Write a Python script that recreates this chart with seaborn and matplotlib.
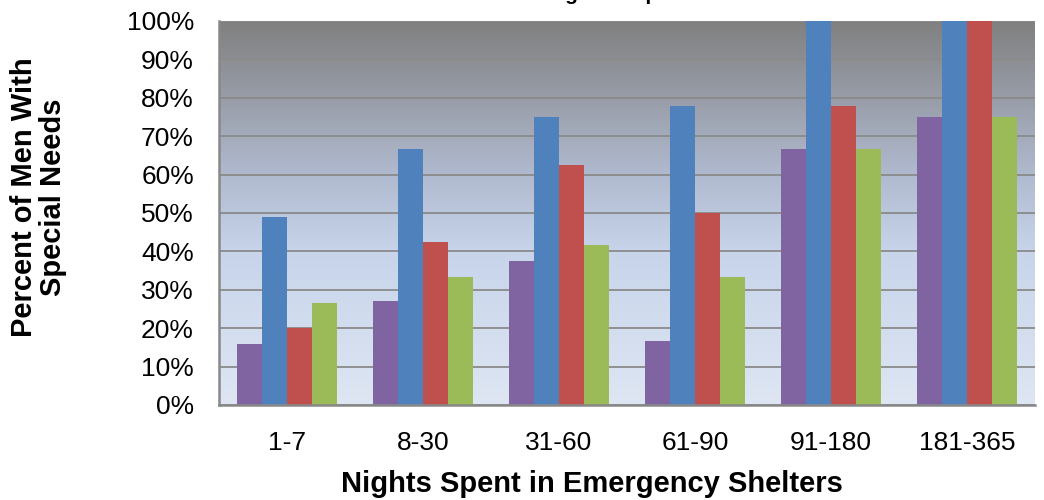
import numpy as np
import pandas as pd
import matplotlib
matplotlib.use("Agg")
import matplotlib.pyplot as plt
from matplotlib.colors import LinearSegmentedColormap
from matplotlib.ticker import PercentFormatter, MultipleLocator
import seaborn as sns

# Share of men with special needs by nights spent in emergency shelters
nights = ["1-7", "8-30", "31-60", "61-90", "91-180", "181-365"]
series_names = ["Series 1", "Series 2", "Series 3", "Series 4"]
series_1 = [0.16, 0.27, 0.375, 0.167, 0.667, 0.75]
series_2 = [0.49, 0.667, 0.75, 0.778, 1.00, 1.00]
series_3 = [0.20, 0.425, 0.625, 0.50, 0.778, 1.00]
series_4 = [0.265, 0.333, 0.417, 0.333, 0.667, 0.75]
bar_colors = ["#8064A2", "#4F81BD", "#C0504D", "#9BBB59"]

rows = []
for name, vals in zip(series_names, [series_1, series_2, series_3, series_4]):
    for cat, v in zip(nights, vals):
        rows.append({"nights": cat, "pct": v, "series": name})
df = pd.DataFrame(rows)

sns.set_theme(style="white")
plt.rcParams["font.family"] = ["Liberation Sans", "DejaVu Sans"]
plt.rcParams["text.color"] = "black"
plt.rcParams["axes.labelcolor"] = "black"
plt.rcParams["xtick.color"] = "black"
plt.rcParams["ytick.color"] = "black"

fig = plt.figure(figsize=(10.44, 5.0), dpi=100)
ax = fig.add_axes([219 / 1044, 95 / 500, 816 / 1044, 384 / 500])

# Vertical gradient fill behind the plot area
grad_cmap = LinearSegmentedColormap.from_list(
    "plotfill",
    [(0.0, (0.871, 0.902, 0.953)),
     (0.40, (0.780, 0.831, 0.918)),
     (0.60, (0.690, 0.729, 0.812)),
     (1.0, (0.502, 0.502, 0.502))],
)
grad = np.linspace(0, 1, 256).reshape(-1, 1)
ax.imshow(grad, cmap=grad_cmap, origin="lower", aspect="auto",
          extent=[0, 1, 0, 1], transform=ax.transAxes, zorder=0)

sns.barplot(data=df, x="nights", y="pct", hue="series", palette=bar_colors,
            saturation=1, width=0.74, dodge=True, legend=False, ax=ax,
            edgecolor="none", zorder=2)

ax.set_xlim(-0.5, 5.5)
ax.set_ylim(0, 1.0)
ax.yaxis.set_major_locator(MultipleLocator(0.1))
ax.yaxis.set_major_formatter(PercentFormatter(1.0, decimals=0))
ax.set_axisbelow(True)
ax.grid(axis="y", color="#8a8a8a", linewidth=1.3, zorder=1)
ax.grid(axis="x", visible=False)

for side in ["top", "right"]:
    ax.spines[side].set_visible(False)
for side in ["left", "bottom"]:
    ax.spines[side].set_color("#888888")
    ax.spines[side].set_linewidth(1.8)

ax.tick_params(axis="y", length=0, pad=18, labelsize=19, labelcolor="black")
ax.tick_params(axis="x", length=0, pad=19, labelsize=19, labelcolor="black")

ax.set_xlabel("Nights Spent in Emergency Shelters", fontsize=21,
              fontweight="bold", color="black")
ax.xaxis.set_label_coords(0.457, -0.205, transform=ax.transAxes)
ax.xaxis.label.set_va("center")
ax.set_ylabel("Percent of Men With\nSpecial Needs", fontsize=21,
              fontweight="bold", linespacing=1.05, color="black")
ax.yaxis.set_label_coords(-0.186, 0.542, transform=ax.transAxes)

fig.text(0.579, 1.0, "Age Group", ha="center", va="baseline",
         fontsize=15, fontweight="bold")

fig.savefig("out.png", dpi=100)
